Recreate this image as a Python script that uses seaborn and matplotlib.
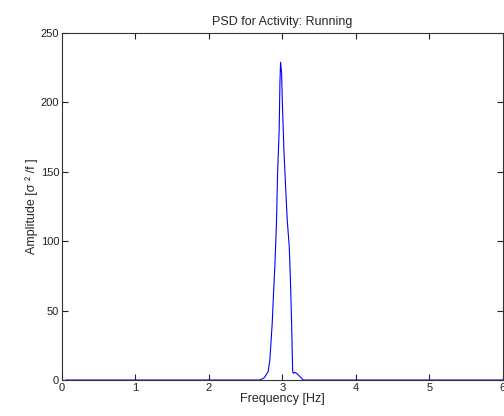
import seaborn as sns
import matplotlib.pyplot as plt
import pandas as pd

# PSD values (Hz, amplitude)
freq = [0.05, 2.69, 2.75, 2.805, 2.828, 2.860, 2.878, 2.896, 2.919, 2.933, 2.955, 2.965, 2.974,
        2.988, 2.997, 3.019, 3.047, 3.065, 3.092, 3.111, 3.124, 3.138, 3.146, 3.165, 3.192,
        3.238, 3.283, 6.0]
amp = [0, 0, 1.5, 6.0, 14.4, 40.8, 62.4, 81.6, 115, 149, 180, 214, 229,
       221, 202, 166, 134, 115, 96, 67, 41, 7, 4.8, 5.5, 4.8,
       2.4, 0, 0]

title = 'PSD for Activity: Running'
xlab = 'Frequency [Hz]'
ylab = 'Amplitude [σ ² /f ]'
xticks = [0, 1, 2, 3, 4, 5, 6]
yticks = [0, 50, 100, 150, 200, 250]

df = pd.DataFrame({'f': freq, 'a': amp})

sns.set_style('ticks')
plt.rcParams['font.family'] = ['Liberation Sans', 'DejaVu Sans']
plt.rcParams['xtick.direction'] = 'in'
plt.rcParams['ytick.direction'] = 'in'

fig = plt.figure(figsize=(5.04, 4.16), dpi=100)
ax = fig.add_axes([0.123, 0.0865, 0.875, 0.834])
sns.lineplot(data=df, x='f', y='a', color='#0000ff', linewidth=0.8, estimator=None, ax=ax)

ax.set_xlim(0, 6)
ax.set_ylim(0, 250)
ax.set_xticks(xticks)
ax.set_yticks(yticks)
ax.tick_params(top=True, right=True, length=4, width=0.8, labelsize=8, colors='#222222', pad=2)
for s in ax.spines.values():
    s.set_color('#333333')
    s.set_linewidth(0.8)
ax.set_title(title, fontsize=9, pad=6)
ax.set_xlabel(xlab, fontsize=9, labelpad=0)
ax.set_ylabel(ylab, fontsize=9, labelpad=2)

fig.savefig('out.png', dpi=100)
